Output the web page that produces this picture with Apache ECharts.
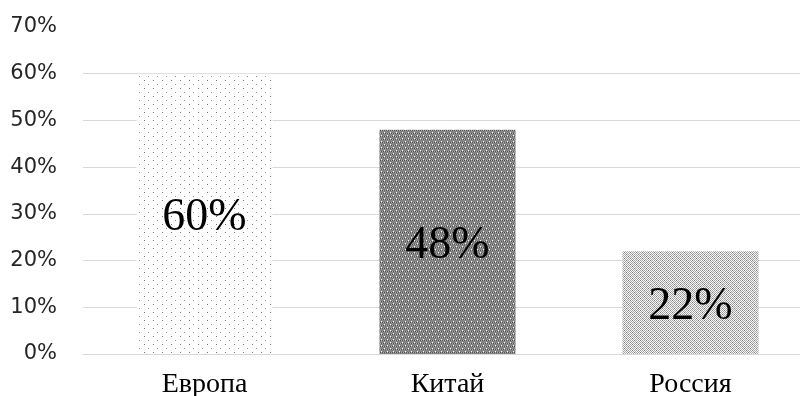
<!DOCTYPE html>
<html>
<head>
<meta charset="utf-8">
<script src="https://cdn.jsdelivr.net/npm/echarts@6/dist/echarts.min.js"></script>
<style>
  html, body { margin: 0; padding: 0; background: #fff; overflow: hidden; }
  #wrap { width: 800px; height: 396px; overflow: hidden; }
  #chart { width: 815px; height: 396px; }
</style>
</head>
<body>
<div id="wrap"><div id="chart"></div></div>
<script>
// Regions and their shares (percent)
const categories = ['Европа', 'Китай', 'Россия'];
const shares = [60, 48, 22];
const yTicks = [0, 10, 20, 30, 40, 50, 60, 70];

// Small repeating pixel tiles used as bar fills
function makeTile(w, h, bg, pixels) {
  const c = document.createElement('canvas');
  c.width = w; c.height = h;
  const ctx = c.getContext('2d');
  ctx.fillStyle = bg;
  ctx.fillRect(0, 0, w, h);
  pixels.forEach(([x, y, col]) => {
    ctx.fillStyle = col;
    ctx.fillRect(x, y, 1, 1);
  });
  return c;
}

// Sparse staggered dots on white
const sparseDots = makeTile(9, 8, '#ffffff', [
  [0, 0, '#707070'], [4, 4, '#959595']
]);

// Mid gray with fine checker and white dots
const darkPix = [];
for (let y = 0; y < 6; y++) {
  for (let x = 0; x < 6; x++) {
    if ((y === 0 && x === 0) || (y === 3 && x === 3)) darkPix.push([x, y, '#ffffff']);
    else if ((x + y) % 2 === 0 && (y === 1 || y === 4)) darkPix.push([x, y, '#505050']);
    else if ((x + y) % 2 === 1 && (y === 1 || y === 4)) darkPix.push([x, y, '#acacac']);
  }
}
const darkDots = makeTile(6, 6, '#848484', darkPix);

// Light fine checker with scattered darker pixels
const lightPix = [];
for (let y = 0; y < 6; y++) {
  for (let x = 0; x < 6; x++) {
    if ((x + y) % 2 === 0) lightPix.push([x, y, ((x * 2 + y) % 6 === 0) ? '#7c7c7c' : '#a6a6a6']);
  }
}
const lightChecker = makeTile(6, 6, '#f6f6f6', lightPix);

const fills = [sparseDots, darkDots, lightChecker];

const chart = echarts.init(document.getElementById('chart'), null, { renderer: 'canvas' });

// no gridline drawn at the top tick
const gridColors = yTicks.map((t, i) => i === yTicks.length - 1 ? 'rgba(0,0,0,0)' : '#d9d9d9');

const serif = "'Liberation Serif', 'Times New Roman', serif";

chart.setOption({
  animation: false,
  grid: { left: 83, right: 3, top: 27, bottom: 42, containLabel: false, outerBoundsMode: 'none' },
  xAxis: {
    type: 'category',
    data: categories,
    axisLine: { show: true, lineStyle: { color: '#d9d9d9', width: 1 } },
    axisTick: { show: false },
    axisLabel: {
      fontFamily: serif,
      fontSize: 28,
      color: '#000',
      margin: 17
    }
  },
  yAxis: {
    type: 'value',
    min: 0,
    max: 70,
    interval: 10,
    axisLine: { show: false },
    axisTick: { show: false },
    splitLine: { show: true, lineStyle: { color: gridColors, width: 1 } },
    axisLabel: {
      formatter: v => v + '%',
      fontFamily: "'DejaVu Sans'",
      fontSize: 21,
      color: '#262626',
      margin: 26
    }
  },
  series: [{
    type: 'bar',
    barWidth: '56%',
    data: shares.map((v, i) => ({
      value: v,
      itemStyle: { color: { image: fills[i], repeat: 'repeat' } }
    })),
    label: {
      show: true,
      position: 'inside',
      offset: [0, 4],
      formatter: p => p.value + '%',
      fontFamily: serif,
      fontSize: 46,
      color: '#000'
    }
  }]
});
</script>
</body>
</html>
